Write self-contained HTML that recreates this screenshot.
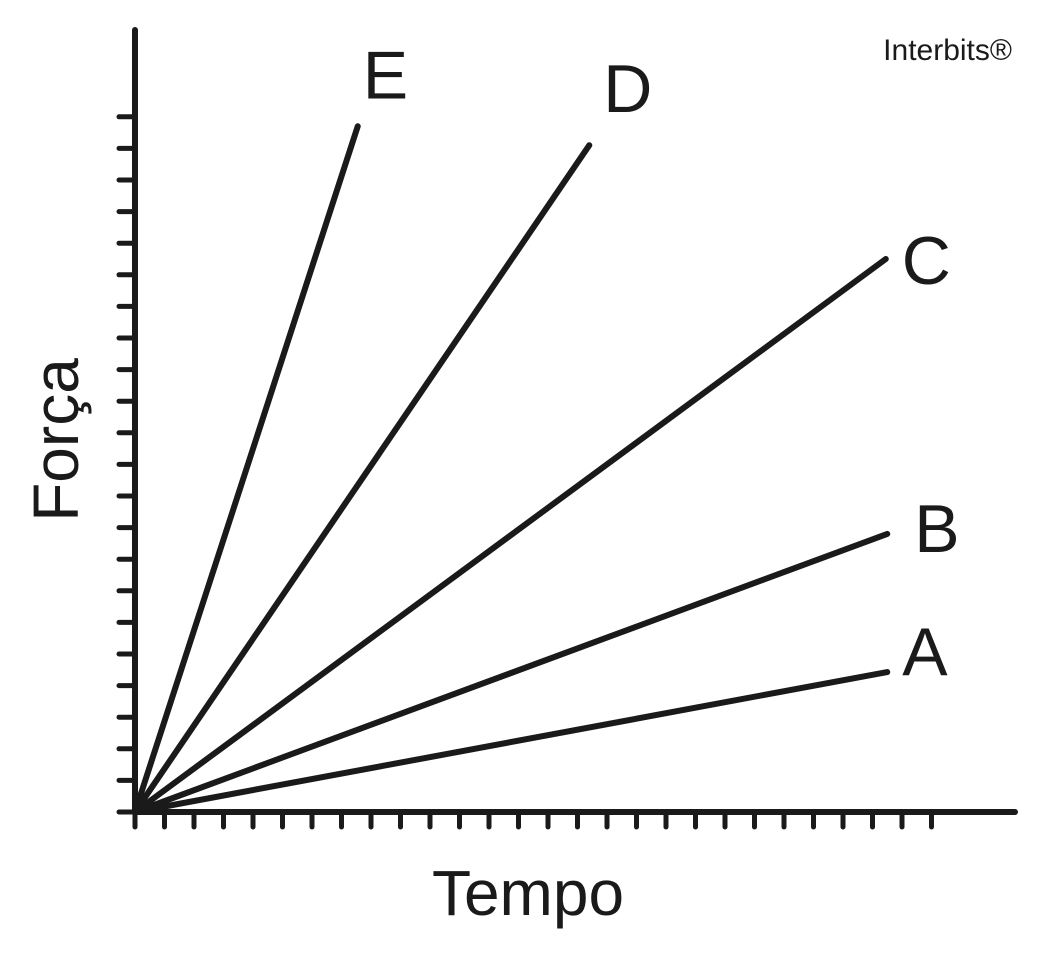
<!DOCTYPE html>
<html><head><meta charset="utf-8"><style>
body{margin:0;background:#fff}
svg{display:block;font-family:"Liberation Sans",sans-serif;fill:#1a1a1a}
</style></head><body>
<svg id="chart" width="1047" height="955" viewBox="0 0 1047 955">
<g id="axes"></g>
<g id="series"></g>
<text x="0" y="0" font-size="64" transform="translate(78,440) rotate(-90)" text-anchor="middle">Força</text>
<text x="528" y="915" font-size="64" text-anchor="middle">Tempo</text>
<text x="1012" y="60" font-size="30" text-anchor="end">Interbits®</text>
</svg>
<script>
const seriesNames=["A","B","C","D","E"];
const endX=[25.5,25.5,25.45,15.4,7.55];
const endY=[4.43,8.8,17.5,21.1,21.7];
const xTickCount=28, yTickCount=23;
const ox=135, oy=812, dx=29.5, dy=31.6;
const X=v=>ox+v*dx, Y=v=>oy-v*dy;
const NS="http://www.w3.org/2000/svg";
const axes=document.getElementById('axes'), series=document.getElementById('series');
function ln(p,x1,y1,x2,y2,w){const l=document.createElementNS(NS,'line');l.setAttribute('x1',x1);l.setAttribute('y1',y1);l.setAttribute('x2',x2);l.setAttribute('y2',y2);l.setAttribute('stroke','#1a1a1a');l.setAttribute('stroke-width',w);l.setAttribute('stroke-linecap','round');p.appendChild(l);return l;}
let a=ln(axes,ox,oy,ox,30,6);


a=ln(axes,ox,oy,1015,oy,6);


for(let i=0;i<xTickCount;i++){const t=ln(axes,X(i),oy,X(i),827,5);

}
for(let i=0;i<yTickCount;i++){const t=ln(axes,119,Y(i),ox,Y(i),5);

}
const labelOff=[[15,3],[27,18],[16,25],[14,-33],[5,-28]];
seriesNames.forEach((n,i)=>{
 const l=ln(series,ox,oy,X(endX[i]),Y(endY[i]),6);
 
 
 const t=document.createElementNS(NS,'text');
 t.setAttribute('x',X(endX[i])+labelOff[i][0]);t.setAttribute('y',Y(endY[i])+labelOff[i][1]);
 t.setAttribute('font-size','68');t.textContent=n;
 
 
 series.appendChild(t);
});
</script>
</body></html>
